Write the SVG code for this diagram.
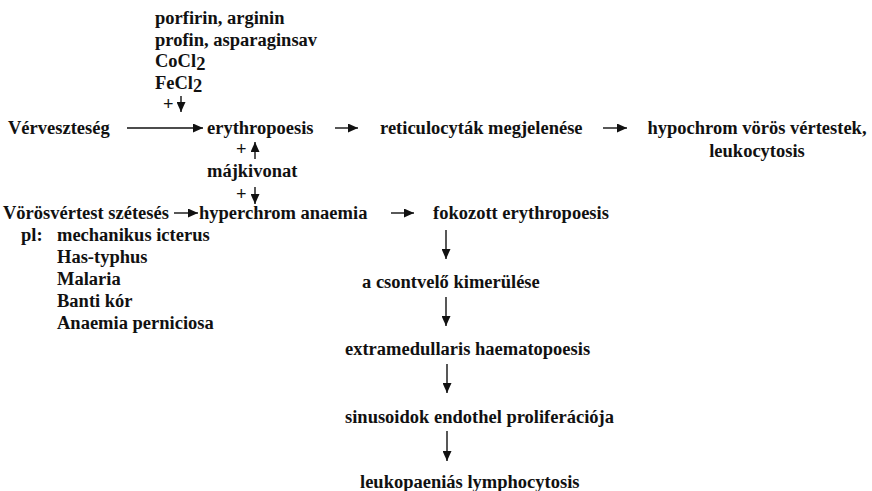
<svg xmlns="http://www.w3.org/2000/svg" width="872" height="491" viewBox="0 0 872 491">
<defs>
<marker id="ah" viewBox="0 0 10 10" refX="10" refY="5" markerWidth="10" markerHeight="9" markerUnits="userSpaceOnUse" orient="auto" preserveAspectRatio="none">
<path d="M0,0 L10,5 L0,10 z" fill="#111"/>
</marker>
</defs>
<style>
text{font-family:"Liberation Serif","Times New Roman",serif;font-weight:bold;font-size:18.5px;fill:#111}
.c line{stroke:#111;stroke-width:1.4;marker-end:url(#ah)}
</style>
<rect width="872" height="491" fill="#fff"/>
<g id="n-factors">
<text x="155" y="24">porfirin, arginin</text>
<text x="155" y="46">profin, asparaginsav</text>
<text x="155" y="67">CoCl<tspan dy="3">2</tspan></text>
<text x="155" y="89">FeCl<tspan dy="3">2</tspan></text>
<text x="163" y="110">+</text>
</g>
<g id="n-ververszteseg"><text x="8" y="134">Vérveszteség</text></g>
<g id="n-erythropoesis"><text x="207" y="134">erythropoesis</text></g>
<g id="n-reticulocytak"><text x="380" y="134">reticulocyták megjelenése</text></g>
<g id="n-hypochrom"><text x="757" y="134" text-anchor="middle">hypochrom vörös vértestek,</text><text x="757" y="157" text-anchor="middle">leukocytosis</text></g>
<g id="n-majkivonat"><text x="236" y="155">+</text><text x="207" y="177">májkivonat</text><text x="236" y="200">+</text></g>
<g id="n-vorosvertest"><text x="3" y="219">Vörösvértest szétesés</text></g>
<g id="n-examples">
<text x="21" y="241">pl:</text>
<text x="57" y="241">mechanikus icterus</text>
<text x="57" y="263">Has-typhus</text>
<text x="57" y="285">Malaria</text>
<text x="57" y="307">Banti kór</text>
<text x="57" y="329">Anaemia perniciosa</text>
</g>
<g id="n-hyperchrom"><text x="199" y="219">hyperchrom anaemia</text></g>
<g id="n-fokozott"><text x="433" y="219">fokozott erythropoesis</text></g>
<g id="n-csontvelo"><text x="362" y="288">a csontvelő kimerülése</text></g>
<g id="n-extramed"><text x="345" y="355">extramedullaris haematopoesis</text></g>
<g id="n-sinusoidok"><text x="345" y="423">sinusoidok endothel proliferációja</text></g>
<g id="n-leukopaenias"><text x="360" y="488">leukopaeniás lymphocytosis</text></g>
<g class="c" id="connectors">
<line x1="181" y1="96" x2="181" y2="112"/>
<line x1="127" y1="128" x2="203" y2="128"/>
<line x1="335" y1="128" x2="358" y2="128"/>
<line x1="603" y1="128" x2="627" y2="128"/>
<line x1="255" y1="159" x2="255" y2="142"/>
<line x1="255" y1="187" x2="255" y2="204"/>
<line x1="174" y1="213" x2="198" y2="213"/>
<line x1="391" y1="213" x2="414" y2="213"/>
<line x1="446" y1="230" x2="446" y2="259"/>
<line x1="446" y1="297" x2="446" y2="326"/>
<line x1="447" y1="364" x2="447" y2="393"/>
<line x1="447" y1="431" x2="447" y2="461"/>
</g>
</svg>
